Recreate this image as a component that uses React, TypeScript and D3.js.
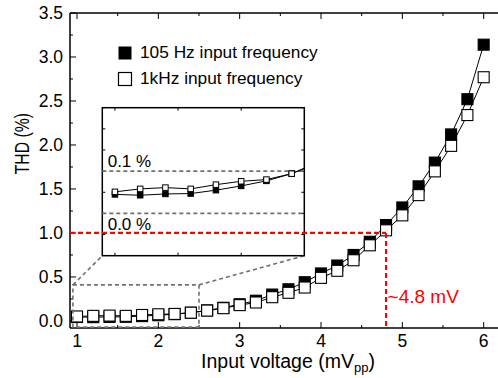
import React, { useRef, useEffect } from 'react';
import * as d3 from 'd3';

// input voltage (mVpp)
const voltages = [1.0, 1.2, 1.4, 1.6, 1.8, 2.0, 2.2, 2.4, 2.6, 2.8, 3.0, 3.2, 3.4, 3.6, 3.8, 4.0, 4.2, 4.4, 4.6, 4.8, 5.0, 5.2, 5.4, 5.6, 5.8, 6.0];
// THD (%) at 105 Hz input
const thd105 = [0.045, 0.043, 0.046, 0.047, 0.055, 0.065, 0.077, 0.094, 0.12, 0.15, 0.19, 0.23, 0.30, 0.36, 0.44, 0.54, 0.63, 0.75, 0.90, 1.09, 1.29, 1.53, 1.80, 2.12, 2.52, 3.14];
// THD (%) at 1 kHz input
const thd1k = [0.051, 0.058, 0.061, 0.058, 0.068, 0.076, 0.080, 0.094, 0.118, 0.145, 0.18, 0.21, 0.27, 0.32, 0.38, 0.49, 0.57, 0.69, 0.86, 1.03, 1.20, 1.43, 1.70, 1.99, 2.34, 2.77];

const yTicks = [0.0, 0.5, 1.0, 1.5, 2.0, 2.5, 3.0, 3.5];
const xTicks = [1, 2, 3, 4, 5, 6];
const insetRefLines = [0.0, 0.1];
const thresholdV = 4.8;
const thresholdThd = 1.0;
// region of the main plot shown in the inset
const zoomBox = { x0: 0.95, x1: 2.5, y0: -0.07, y1: 0.41 };

const App = () => {
    const svgRef = useRef(null);

    useEffect(() => {
        const svg = d3.select(svgRef.current);
        svg.selectAll('*').remove();
        svg.attr('width', 498).attr('height', 378)
            .style('font-family', 'Liberation Sans, Arial, sans-serif');

        const x = d3.scaleLinear().domain([0.914, 6.25]).range([70, 504]);
        const y = d3.scaleLinear().domain([-0.08, 3.5]).range([328, 13]);
        const [left] = x.range();
        const [bottom, top] = y.range();

        const gray = '#707070';
        const red = '#ff0000';

        // frame
        svg.append('line').attr('x1', left).attr('x2', left).attr('y1', top).attr('y2', bottom)
            .attr('stroke', '#000').attr('stroke-width', 1.5);
        svg.append('line').attr('x1', left).attr('x2', 498).attr('y1', bottom).attr('y2', bottom)
            .attr('stroke', '#000').attr('stroke-width', 1.5);
        svg.append('line').attr('x1', left).attr('x2', 498).attr('y1', top).attr('y2', top)
            .attr('stroke', '#000').attr('stroke-width', 1.5);

        // y ticks (inward), major and minor
        d3.range(0, 3.51, 0.25).forEach(v => {
            const major = Math.abs(v * 2 - Math.round(v * 2)) < 1e-6;
            svg.append('line').attr('x1', left).attr('x2', left + (major ? 6 : 3))
                .attr('y1', y(v)).attr('y2', y(v)).attr('stroke', '#000').attr('stroke-width', 1);
        });
        yTicks.forEach(v => {
            svg.append('text').attr('x', 63).attr('y', y(v) + 6).attr('text-anchor', 'end')
                .attr('font-size', 17.5).text(v.toFixed(1));
        });

        // x ticks, bottom and top
        d3.range(1, 6.51, 0.5).forEach(v => {
            const major = Math.abs(v - Math.round(v)) < 1e-6;
            const len = major ? 6 : 3;
            svg.append('line').attr('x1', x(v)).attr('x2', x(v)).attr('y1', bottom).attr('y2', bottom - len)
                .attr('stroke', '#000').attr('stroke-width', 1);
            svg.append('line').attr('x1', x(v)).attr('x2', x(v)).attr('y1', top).attr('y2', top + len)
                .attr('stroke', '#000').attr('stroke-width', 1);
        });
        xTicks.forEach(v => {
            svg.append('text').attr('x', x(v)).attr('y', 347).attr('text-anchor', 'middle')
                .attr('font-size', 17.5).text(v);
        });

        // axis titles
        const xt = svg.append('text').attr('x', 288).attr('y', 368).attr('text-anchor', 'middle')
            .attr('font-size', 19.5);
        xt.append('tspan').text('Input voltage (mV');
        xt.append('tspan').attr('font-size', 13).attr('dy', 4).text('pp');
        xt.append('tspan').attr('dy', -4).text(')');

        svg.append('text')
            .attr('transform', 'translate(28.5,143.7) rotate(-90) scale(0.75,1)')
            .attr('text-anchor', 'middle').attr('font-size', 21).text('THD (%)');

        // legend
        svg.append('rect').attr('x', 118.5).attr('y', 46.5).attr('width', 13).attr('height', 13)
            .attr('fill', '#000');
        svg.append('text').attr('x', 140).attr('y', 58).attr('font-size', 17.3).text('105 Hz input frequency');
        svg.append('rect').attr('x', 118.5).attr('y', 72.5).attr('width', 13).attr('height', 13)
            .attr('fill', '#fff').attr('stroke', '#000').attr('stroke-width', 1.2);
        svg.append('text').attr('x', 140).attr('y', 84).attr('font-size', 17.3).text('1kHz input frequency');

        const series = [
            { values: thd105, fill: '#000' },
            { values: thd1k, fill: '#fff' }
        ];

        // main data
        const line = d3.line().x(d => x(d[0])).y(d => y(d[1]));
        const ms = 11;
        series.forEach(s => {
            const pts = voltages.map((v, i) => [v, s.values[i]]);
            svg.append('path').attr('d', line(pts)).attr('fill', 'none')
                .attr('stroke', '#000').attr('stroke-width', 1);
            svg.selectAll(null).data(pts).enter().append('rect')
                .attr('x', d => x(d[0]) - ms / 2).attr('y', d => y(d[1]) - ms / 2)
                .attr('width', ms).attr('height', ms)
                .attr('fill', s.fill).attr('stroke', '#000').attr('stroke-width', 1.1);
        });

        // zoom box and connectors
        const bx0 = x(zoomBox.x0), bx1 = x(zoomBox.x1), by0 = y(zoomBox.y0), by1 = y(zoomBox.y1);
        svg.append('rect').attr('x', bx0).attr('y', by1).attr('width', bx1 - bx0).attr('height', by0 - by1)
            .attr('fill', 'none').attr('stroke', gray).attr('stroke-width', 1.6).attr('stroke-dasharray', '4,3');

        // inset
        const ix = d3.scaleLinear().domain([0.9, 2.5]).range([102.3, 304.3]);
        const iy = d3.scaleLinear().domain([-0.1, 0.25]).range([255.7, 107.7]);
        const [il, ir] = ix.range();
        const [ib, itop] = iy.range();

        svg.append('line').attr('x1', bx0).attr('y1', by1).attr('x2', il).attr('y2', ib)
            .attr('stroke', gray).attr('stroke-width', 1.6).attr('stroke-dasharray', '4,3');
        svg.append('line').attr('x1', bx1).attr('y1', by1).attr('x2', ir).attr('y2', ib)
            .attr('stroke', gray).attr('stroke-width', 1.6).attr('stroke-dasharray', '4,3');

        const inset = svg.append('g');
        inset.append('rect').attr('x', il).attr('y', itop).attr('width', ir - il).attr('height', ib - itop)
            .attr('fill', '#fff').attr('stroke', '#000').attr('stroke-width', 1.5);
        d3.range(-0.05, 0.251, 0.05).forEach(v => {
            inset.append('line').attr('x1', il).attr('x2', il + 3).attr('y1', iy(v)).attr('y2', iy(v))
                .attr('stroke', '#000').attr('stroke-width', 1);
            inset.append('line').attr('x1', ir).attr('x2', ir - 3).attr('y1', iy(v)).attr('y2', iy(v))
                .attr('stroke', '#000').attr('stroke-width', 1);
        });
        [1.0, 1.5, 2.0].forEach(v => {
            inset.append('line').attr('x1', ix(v)).attr('x2', ix(v)).attr('y1', ib).attr('y2', ib - 3)
                .attr('stroke', '#000').attr('stroke-width', 1);
            inset.append('line').attr('x1', ix(v)).attr('x2', ix(v)).attr('y1', itop).attr('y2', itop + 3)
                .attr('stroke', '#000').attr('stroke-width', 1);
        });
        insetRefLines.forEach(v => {
            inset.append('line').attr('x1', il).attr('x2', ir).attr('y1', iy(v)).attr('y2', iy(v))
                .attr('stroke', gray).attr('stroke-width', 1.6).attr('stroke-dasharray', '4,3');
        });
        inset.append('text').attr('x', 107.7).attr('y', 167).attr('font-size', 17).text('0.1 %');
        inset.append('text').attr('x', 107.7).attr('y', 230).attr('font-size', 17).text('0.0 %');

        svg.append('clipPath').attr('id', 'inset-clip').append('rect')
            .attr('x', il).attr('y', itop).attr('width', ir - il).attr('height', ib - itop);
        const iline = d3.line().x(d => ix(d[0])).y(d => iy(d[1]));
        const ims = 5.5;
        const insetPlot = inset.append('g').attr('clip-path', 'url(#inset-clip)');
        series.forEach(s => {
            const pts = voltages.map((v, i) => [v, s.values[i]]).filter(d => d[0] <= 2.7);
            insetPlot.append('path').attr('d', iline(pts)).attr('fill', 'none')
                .attr('stroke', '#000').attr('stroke-width', 1);
            insetPlot.selectAll(null).data(pts.filter(d => d[0] <= 2.45)).enter().append('rect')
                .attr('x', d => ix(d[0]) - ims / 2).attr('y', d => iy(d[1]) - ims / 2)
                .attr('width', ims).attr('height', ims)
                .attr('fill', s.fill).attr('stroke', '#000').attr('stroke-width', 1);
        });

        // threshold marker
        svg.append('line').attr('x1', left).attr('x2', x(thresholdV)).attr('y1', y(thresholdThd)).attr('y2', y(thresholdThd))
            .attr('stroke', red).attr('stroke-width', 2.2).attr('stroke-dasharray', '5,3');
        svg.append('line').attr('x1', x(thresholdV)).attr('x2', x(thresholdV)).attr('y1', y(thresholdThd)).attr('y2', bottom)
            .attr('stroke', red).attr('stroke-width', 2.2).attr('stroke-dasharray', '5,3');
        svg.append('text').attr('x', x(thresholdV) + 1.5).attr('y', 303).attr('font-size', 19)
            .attr('fill', red).text('~4.8 mV');
    }, []);

    return <svg ref={svgRef} style={{ position: 'absolute', left: 0, top: 0, display: 'block' }}></svg>;
};

export default App;
